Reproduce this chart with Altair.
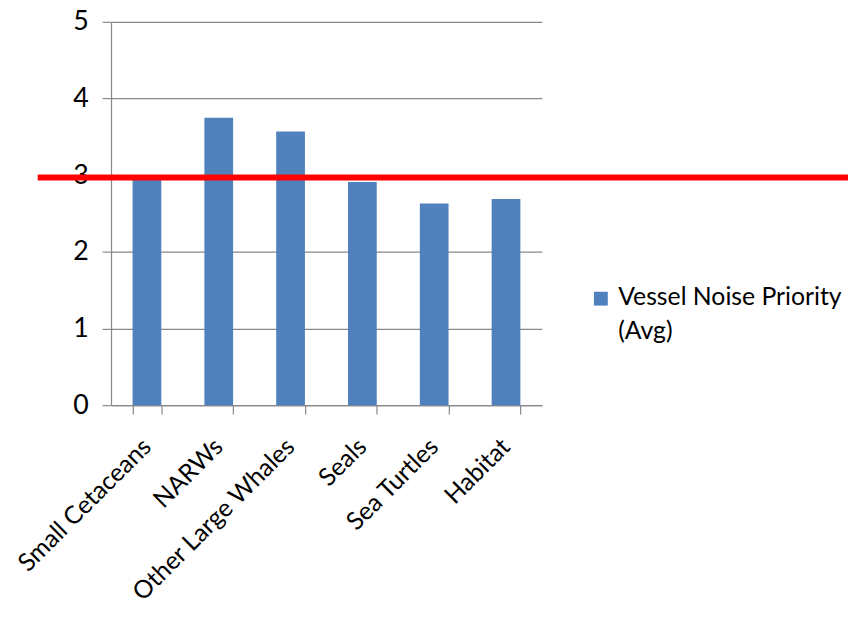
import altair as alt
import pandas as pd

categories = ["Small Cetaceans", "NARWs", "Other Large Whales", "Seals", "Sea Turtles", "Habitat"]
values = [2.95, 3.75, 3.57, 2.91, 2.63, 2.69]
series_name = "Vessel Noise Priority (Avg)"
threshold = [2.97]
y_ticks = [0, 1, 2, 3, 4, 5]

df = pd.DataFrame({"category": categories, "value": values, "series": [series_name] * len(categories)})
thr = pd.DataFrame({"t": threshold})

FONT = "Lato"
GRAY = "#888888"
FS = 27

legend_lines = [series_name[:21], series_name[22:]]

bars = alt.Chart(df).mark_bar(color="#4F81BD").encode(
    x=alt.X("category:N", sort=categories, title=None,
            scale=alt.Scale(paddingInner=0.6, paddingOuter=0.3),
            axis=alt.Axis(labelAngle=-45, tickBand="extent", tickSize=9, labelPadding=20,
                          labelOffset=-9, labelLimit=400, labelFontSize=25, grid=False)),
    y=alt.Y("value:Q", title=None, scale=alt.Scale(domain=[0, 5]),
            axis=alt.Axis(values=y_ticks, format="d", grid=True, tickSize=9, labelPadding=14, domain=True)),
    color=alt.Color("series:N",
                    scale=alt.Scale(range=["#4F81BD"]),
                    legend=alt.Legend(orient="none", legendX=481, legendY=266,
                                      title=legend_lines, titleOrient="right",
                                      titleFontSize=25, titleFontWeight="normal",
                                      titleLineHeight=34, titleBaseline="top",
                                      titleAnchor="start", titlePadding=4,
                                      titleFont=FONT, titleColor="#000000", titleLimit=400,
                                      symbolType="square", symbolSize=196, symbolStrokeWidth=0,
                                      labelExpr="''", labelOffset=0)),
)

rule = alt.Chart(thr).mark_rule(color="#FF0000", strokeWidth=6).encode(
    y="t:Q",
    x=alt.value(-74),
    x2=alt.value(744),
)

chart = alt.layer(bars, rule).properties(
    width=435, height=387,
    autosize=alt.AutoSizeParams(type="none"),
    padding={"left": 104, "top": 11, "right": 309, "bottom": 221},
).configure_view(stroke=None).configure_axis(
    labelFont=FONT, labelFontSize=FS, labelColor="#000000",
    domainColor=GRAY, tickColor=GRAY, gridColor=GRAY,
    domainWidth=1.2, tickWidth=1.2, gridWidth=1.2,
).configure_legend(
    labelFont=FONT, labelFontSize=FS, labelColor="#000000",
)

chart.save("out.html", embed_options={"renderer": "svg", "actions": False})
